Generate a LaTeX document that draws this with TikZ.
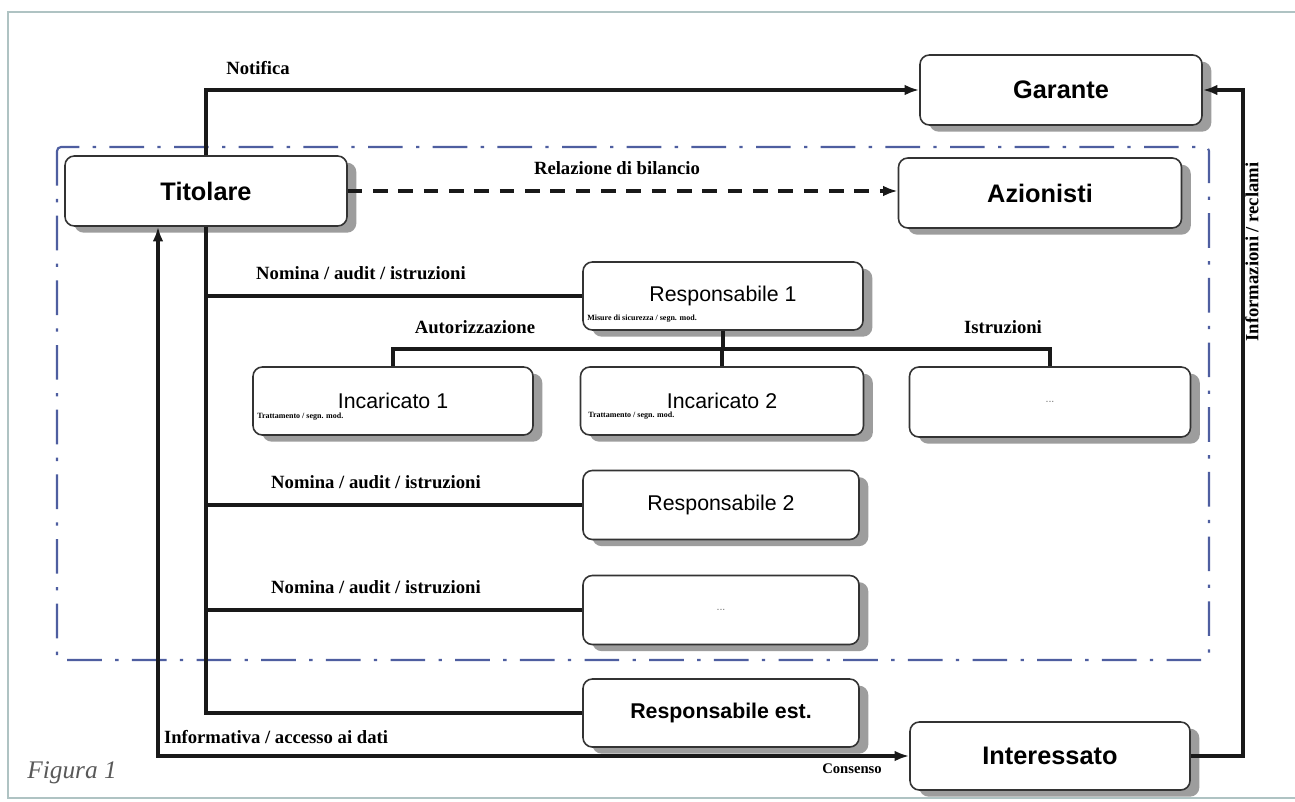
\documentclass[tikz,border=0pt]{standalone}
\usepackage{fontspec}
\setmainfont{Liberation Serif}
\setsansfont{Liberation Sans}
\usetikzlibrary{shadows,arrows.meta}
\definecolor{framec}{RGB}{78,94,160}
\definecolor{pagec}{RGB}{175,195,195}
\begin{document}
\begin{tikzpicture}[x=0.75pt,y=-0.75pt,
  wh/.style 2 args={minimum width=#1*0.75pt, minimum height=#2*0.75pt},
  box/.style={draw=black!80, line width=1.2pt, rounded corners=7pt, fill=white, inner sep=0pt,
    drop shadow={shadow xshift=7pt, shadow yshift=-5pt, fill=black!45, opacity=0.85}},
  bigbox/.style={box, font=\sffamily\bfseries\fontsize{19}{22}\selectfont},
  midbox/.style={box, font=\sffamily\fontsize{16}{19}\selectfont},
  estbox/.style={box, font=\sffamily\bfseries\fontsize{16}{19}\selectfont},
  dotbox/.style={box, font=\sffamily\fontsize{8}{9}\selectfont\color{black!55}},
  lab/.style={font=\bfseries\fontsize{14}{16}\selectfont, inner sep=0pt},
  sub/.style={font=\bfseries\fontsize{6}{7}\selectfont, inner sep=0pt, anchor=west},
  conn/.style={line width=2.4pt, black!90},
  arr/.style={-{Latex[length=11pt,width=8pt]}},
  frame/.style={framec, line width=1.6pt, dash pattern=on 26pt off 10pt on 2.5pt off 10pt, rounded corners=3pt}
]
\useasboundingbox (0,0) rectangle (1295,802);
\fill[white] (0,0) rectangle (1295,802);
% page frame
\draw[pagec, line width=1pt] (1295,12) -- (8,12) -- (8,798) -- (1295,798);

% dash-dot frame
\draw[frame] (57,147) rectangle (1209,660);

% nodes
\node[bigbox, wh={282}{70}] (garante) at (1061,90) {Garante};
\node[bigbox, wh={282}{70}] (titolare) at (206,191) {Titolare};
\node[bigbox, wh={283}{70}] (azionisti) at (1040,193) {Azionisti};
\node[midbox, wh={280}{68}] (resp1) at (723,296) {Responsabile 1};
\node[midbox, wh={280}{68}] (inc1) at (393,401) {Incaricato 1};
\node[midbox, wh={283}{68}] (inc2) at (722,401) {Incaricato 2};
\node[dotbox, wh={281}{70}] (incd) at (1050,402) {...};
\node[midbox, wh={276}{69}] (resp2) at (721,505) {Responsabile 2};
\node[dotbox, wh={276}{69}] (respd) at (721,610) {...};
\node[estbox, wh={276}{68}] (respest) at (721,713) {Responsabile est.};
\node[bigbox, wh={280}{68}] (interessato) at (1050,756) {Interessato};

% sub texts
\node[sub] (s1) at (587,319) {Misure di sicurezza / segn. mod.};
\node[sub] (s2) at (257,417) {Trattamento / segn. mod.};
\node[sub] (s3) at (588,416) {Trattamento / segn. mod.};

% helper coordinates
\coordinate (bus) at (0,349);
\coordinate (ll) at (158,756);
\coordinate (rr) at (1243,90);

% connectors
\draw[conn, arr] (titolare.north) -- (titolare.north |- garante.west) -- (garante.west);
\draw[conn, dash pattern=on 11pt off 8pt, arr] (titolare.east) -- (titolare.east -| azionisti.west);
\draw[conn] (titolare.south) -- (titolare.south |- respest.west) -- (respest.west);
\draw[conn] (titolare.south |- resp1.west) -- (resp1.west);
\draw[conn] (titolare.south |- resp2.west) -- (resp2.west);
\draw[conn] (titolare.south |- respd.west) -- (respd.west);
\draw[conn] (resp1.south) -- (resp1.south |- bus);
\draw[conn] (inc1.north) -- (inc1.north |- bus) -- (incd.north |- bus) -- (incd.north);
\draw[conn] (inc2.north) -- (inc2.north |- bus);
\draw[conn, {Latex[length=11pt,width=8pt]}-{Latex[length=11pt,width=8pt]}] (titolare.south -| ll) -- (ll) -- (interessato.west);
\draw[conn, arr] (interessato.east) -- (interessato.east -| rr) -- (rr) -- (garante.east);

% labels
\node[lab] (lnot) at (258,68) {Notifica};
\node[lab] (lrel) at (617,168) {Relazione di bilancio};
\node[lab] (ln1) at (361,273) {Nomina / audit / istruzioni};
\node[lab] (ln2) at (376,482) {Nomina / audit / istruzioni};
\node[lab] (ln3) at (376,587) {Nomina / audit / istruzioni};
\node[lab] (laut) at (475,327) {Autorizzazione};
\node[lab] (list) at (1003,327) {Istruzioni};
\node[lab] (linf) at (276,737) {Informativa / accesso ai dati};
\node[lab, font=\bfseries\fontsize{11}{13}\selectfont] (lcons) at (852,769) {Consenso};
\node[lab, rotate=90] (lrec) at (1252,252) {Informazioni / reclami};
\node[font=\itshape\fontsize{19}{22}\selectfont, text=black!65, inner sep=0pt] (fig) at (72,773) {Figura 1};
\end{tikzpicture}
\end{document}
